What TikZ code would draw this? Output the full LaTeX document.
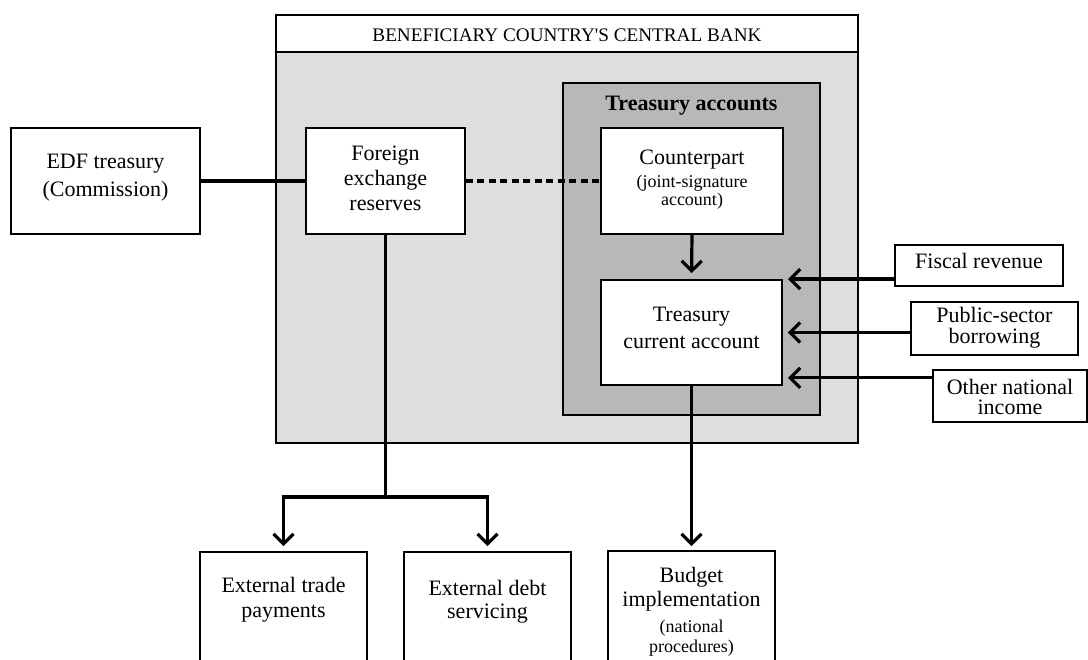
\documentclass[tikz,border=0pt]{standalone}
\usepackage{fontspec}
\setmainfont{Liberation Serif}
\newfontfamily\plainserif{Liberation Serif}[Ligatures=ResetAll]
\usetikzlibrary{arrows.meta}
\definecolor{bankgray}{RGB}{222,222,222}
\definecolor{treasgray}{RGB}{184,184,184}
\begin{document}
\begin{tikzpicture}[x=1pt,y=-1pt,
  frame/.style={draw, line width=1.8pt, inner sep=0pt},
  box/.style={frame, fill=white},
  conn/.style={line width=3.2pt},
  arr/.style={conn, -{Straight Barb[length=10pt,width=20pt]}, shorten >=5pt},
  txt/.style={inner sep=0pt, align=center},
  big/.style={font=\fontsize{22}{#1}\selectfont},
  big/.default=25]
\useasboundingbox (0,0) rectangle (1088,660);
\clip (0,0) rectangle (1088,660);
% containers
\node[frame, fill=bankgray, minimum width=582pt, minimum height=428pt] (bank) at (567,229) {};
\node[frame, fill=white, minimum width=582pt, minimum height=37pt] (bankhead) at (567,33.5) {};
\node[txt, font=\plainserif\fontsize{19.2}{24}\selectfont] (banktitle) at (567,35) {BENEFICIARY COUNTRY'S CENTRAL BANK};
\node[frame, fill=treasgray, minimum width=257pt, minimum height=332pt] (tacc) at (691.5,249) {};
\node[txt, font=\fontsize{22}{26}\selectfont\bfseries] (tacctitle) at (691.5,106) {Treasury accounts};
% boxes
\node[box, minimum width=189pt, minimum height=106pt] (edf) at (105.5,181) {};
\node[box, minimum width=159pt, minimum height=106pt] (fx) at (385.5,181) {};
\node[box, minimum width=182pt, minimum height=106pt] (cp) at (692,181) {};
\node[box, minimum width=181pt, minimum height=105pt] (tca) at (691.5,332.5) {};
\node[box, minimum width=168pt, minimum height=41pt] (fis) at (979,265.5) {};
\node[box, minimum width=167pt, minimum height=53pt] (psb) at (994.5,328.5) {};
\node[box, minimum width=154pt, minimum height=52pt] (oni) at (1010,396) {};
\node[box, minimum width=167pt, minimum height=140pt] (etp) at (283.5,622) {};
\node[box, minimum width=167pt, minimum height=140pt] (eds) at (487.5,622) {};
\node[box, minimum width=167pt, minimum height=140pt] (bud) at (691.5,621) {};
% texts
\node[txt, big=28] (edfT) at (105.5,178) {EDF treasury\\(Commission)};
\node[txt, big=25] (fxT) at (385.5,178) {Foreign\\exchange\\reserves};
\node[txt, text width=178pt] (cpT) at (692,180)
  {\fontsize{22}{24}\selectfont Counterpart\par\vspace{5pt}%
   \fontsize{18}{18}\selectfont (joint-signature\\account)\par};
\node[txt, big=27] (tcaT) at (691.5,328) {Treasury\\current account};
\node[txt, big] (fisT) at (979,261) {Fiscal revenue};
\node[txt, big=21] (psbT) at (994.5,328) {Public-sector\\borrowing};
\node[txt, big=20] (oniT) at (1010,397) {Other national\\income};
\node[txt, big=25] (etpT) at (283.5,600) {External trade\\payments};
\node[txt, big=23] (edsT) at (487.5,602) {External debt\\servicing};
\node[txt, text width=165pt] (budT) at (691.5,611.5)
  {\fontsize{22}{24}\selectfont Budget\\implementation\par\vspace{6pt}%
   \fontsize{18}{20}\selectfont (national\\procedures)\par};
% connectors
\draw[conn] (edf.east) -- (fx.west);
\draw[conn, dash pattern=on 7pt off 4.5pt] (fx.east) -- (cp.west);
\draw[arr, shorten >=6pt] (cp.south) -- (tca.north);
\coordinate (split) at (fx.south |- 0,497);
\draw[conn] (fx.south) -- (split);
\draw[arr] (split) -| (etp.north);
\draw[arr] (split) -| (eds.north);
\draw[arr, shorten >=4pt] (tca.south) -- (bud.north);
\draw[arr] (fis.west |- tca.north east) -- (tca.north east);
\draw[arr] (psb.west |- tca.east) -- (tca.east);
\coordinate (oniIn) at ([yshift=8pt]tca.south east);
\draw[arr] (oni.west |- oniIn) -- (oniIn);
\end{tikzpicture}
\end{document}
